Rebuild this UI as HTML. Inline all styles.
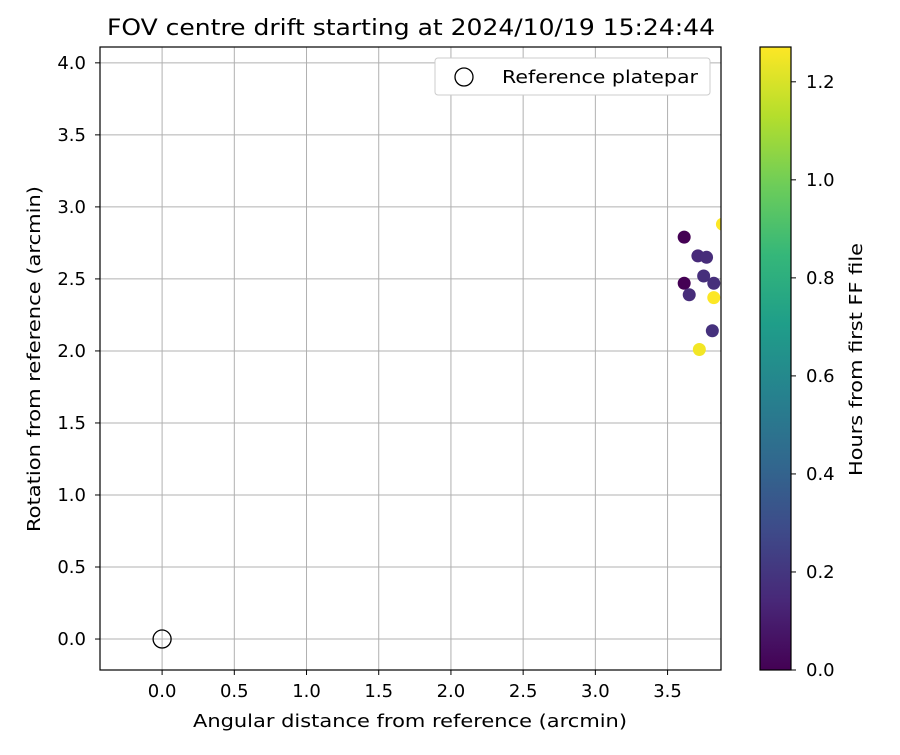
<!DOCTYPE html>
<html><head><meta charset="utf-8"><style>body{margin:0;background:#fff}svg{font-family:"DejaVu Sans","Liberation Sans",sans-serif}</style></head>
<body>
<svg id="c" width="900" height="750" xmlns="http://www.w3.org/2000/svg"></svg>
<script>
const xs=[3.615,3.71,3.77,3.615,3.75,3.82,3.65,3.82,3.81,3.72,3.88];
const ys=[2.79,2.66,2.65,2.47,2.52,2.47,2.39,2.37,2.14,2.01,2.88];
const hours=[0.0,0.15,0.16,0.0,0.17,0.17,0.16,1.27,0.18,1.25,1.27];
const xTicks=[0,0.5,1,1.5,2,2.5,3,3.5];
const yTicks=[0,0.5,1,1.5,2,2.5,3,3.5,4];
const cTicks=[0,0.2,0.4,0.6,0.8,1.0,1.2];
const L=100,R=721,T=47,B=670,X0=-0.43,X1=3.87,Y0=-0.215,Y1=4.11,CMAX=1.271;
const sx=v=>L+(v-X0)/(X1-X0)*(R-L), sy=v=>B-(v-Y0)/(Y1-Y0)*(B-T);
const CL=760,CR=791,cy=v=>B-v/CMAX*(B-T);
const vir=[[68,1,84],[72,40,120],[62,74,137],[49,104,142],[38,130,142],[31,158,137],[53,183,121],[109,205,89],[180,222,44],[253,231,37]];
function col(t){t=Math.max(0,Math.min(1,t))*9;const i=Math.min(8,Math.floor(t)),f=t-i,a=vir[i],b=vir[i+1];return `rgb(${a.map((v,k)=>Math.round(v+(b[k]-v)*f)).join(',')})`;}
const s=document.getElementById('c');const NS='http://www.w3.org/2000/svg';
function el(tag,at,name,txt){const e=document.createElementNS(NS,tag);for(const k in at)e.setAttribute(k,at[k]);


if(txt!==undefined)e.textContent=txt;s.appendChild(e);return e;}
el('text',{x:107,y:35,'font-size':22,textLength:608,lengthAdjust:'spacingAndGlyphs'},'chart-title','FOV centre drift starting at 2024/10/19 15:24:44');
const defs=el('defs',{},'defs');const cp=document.createElementNS(NS,'clipPath');cp.setAttribute('id','pc');const cr=document.createElementNS(NS,'rect');
cr.setAttribute('x',L);cr.setAttribute('y',T);cr.setAttribute('width',R-L);cr.setAttribute('height',B-T);cp.appendChild(cr);defs.appendChild(cp);
xTicks.forEach(v=>{const x=sx(v);el('line',{x1:x,x2:x,y1:T,y2:B,stroke:'#b0b0b0','stroke-width':1},'x-grid-line');
el('line',{x1:x,x2:x,y1:B,y2:B+5,stroke:'#000'},'x-tick');el('text',{x:x,y:B+27,'font-size':18,'text-anchor':'middle'},'x-tick-label',v.toFixed(1));});
yTicks.forEach(v=>{const y=sy(v);el('line',{x1:L,x2:R,y1:y,y2:y,stroke:'#b0b0b0','stroke-width':1},'y-grid-line');
el('line',{x1:L-5,x2:L,y1:y,y2:y,stroke:'#000'},'y-tick');el('text',{x:L-14,y:y+6,'font-size':18,'text-anchor':'end'},'y-tick-label',v.toFixed(1));});
el('circle',{cx:sx(0),cy:sy(0),r:9,fill:'none',stroke:'#000','stroke-width':1.3},'reference-platepar-marker');
const g=el('g',{'clip-path':'url(#pc)'},'data-points');
xs.forEach((v,i)=>{const c=document.createElementNS(NS,'circle');c.setAttribute('cx',sx(v));c.setAttribute('cy',sy(ys[i]));c.setAttribute('r',6.5);c.setAttribute('fill',col(hours[i]/CMAX));


g.appendChild(c);});
el('rect',{x:L,y:T,width:R-L,height:B-T,fill:'none',stroke:'#000','stroke-width':1.2},'plot-frame');
el('rect',{x:435,y:58,width:275,height:37,fill:'#fff',stroke:'#ccc',rx:3},'legend-box');
el('circle',{cx:464,cy:77,r:9,fill:'none',stroke:'#000','stroke-width':1.3},'legend-marker');
el('text',{x:502,y:83,'font-size':18,textLength:196,lengthAdjust:'spacingAndGlyphs'},'legend-label','Reference platepar');
el('text',{x:193,y:727,'font-size':18,textLength:434,lengthAdjust:'spacingAndGlyphs'},'x-axis-title','Angular distance from reference (arcmin)');
el('text',{x:0,y:0,'font-size':18,textLength:346,lengthAdjust:'spacingAndGlyphs',transform:'translate(40 532) rotate(-90)'},'y-axis-title','Rotation from reference (arcmin)');
const lg=document.createElementNS(NS,'linearGradient');lg.setAttribute('id','vg');lg.setAttribute('x1','0');lg.setAttribute('y1','1');lg.setAttribute('x2','0');lg.setAttribute('y2','0');
vir.forEach((c,i)=>{const st=document.createElementNS(NS,'stop');st.setAttribute('offset',i/9);st.setAttribute('stop-color',`rgb(${c})`);lg.appendChild(st);});defs.appendChild(lg);
el('rect',{x:CL,y:T,width:CR-CL,height:B-T,fill:'url(#vg)',stroke:'#000','stroke-width':1.2},'colorbar');
cTicks.forEach(v=>{const y=cy(v);el('line',{x1:CR,x2:CR+5,y1:y,y2:y,stroke:'#000'},'colorbar-tick');el('text',{x:CR+15,y:y+6,'font-size':18},'colorbar-tick-label',v.toFixed(1));});
el('text',{x:0,y:0,'font-size':18,textLength:233,lengthAdjust:'spacingAndGlyphs',transform:'translate(862 476) rotate(-90)'},'colorbar-title','Hours from first FF file');
</script>
</body></html>
